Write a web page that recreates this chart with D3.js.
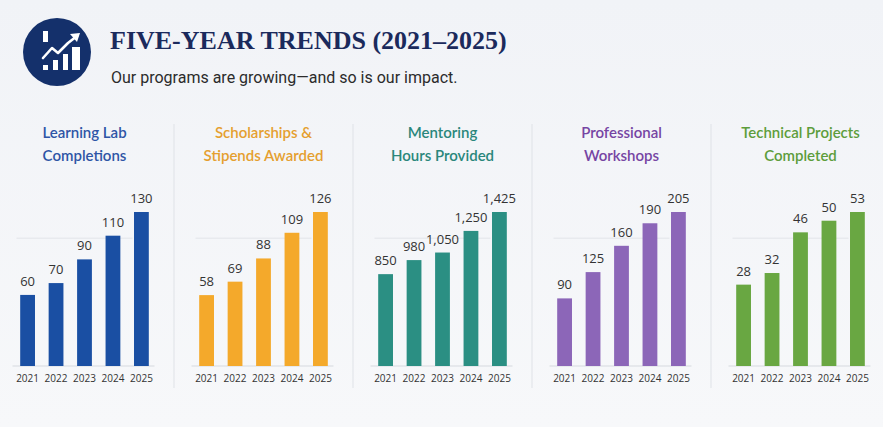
<!DOCTYPE html>
<html>
<head>
<meta charset="utf-8">
<script src="https://cdn.jsdelivr.net/npm/d3@7"></script>
<style>
  html, body { margin: 0; padding: 0; background: #f3f4f7; }
  svg { display: block; }
</style>
</head>
<body>
<svg id="chart" width="883" height="427"></svg>
<script>
// Data
const years = ['2021', '2022', '2023', '2024', '2025'];
const panelNames = ['learning', 'scholarships', 'mentoring', 'workshops', 'technical'];
const panelTitles = [
  ['Learning Lab', 'Completions'],
  ['Scholarships &', 'Stipends Awarded'],
  ['Mentoring', 'Hours Provided'],
  ['Professional', 'Workshops'],
  ['Technical Projects', 'Completed']
];
const learningValues = [60, 70, 90, 110, 130];
const scholarshipValues = [58, 69, 88, 109, 126];
const mentoringValues = [850, 980, 1050, 1250, 1425];
const workshopValues = [90, 125, 160, 190, 205];
const technicalValues = [28, 32, 46, 50, 53];
const panelValues = [learningValues, scholarshipValues, mentoringValues, workshopValues, technicalValues];

const barColors = ['#1a4fa3', '#f4a92b', '#2b8f83', '#8c66b8', '#69a742'];
const titleColors = ['#2e55a6', '#e59f2f', '#2a877b', '#7645a3', '#5d9d3b'];

const svg = d3.select('#chart');
const W = 883, H = 427;

// background
const defs = svg.append('defs');
const bg = defs.append('linearGradient').attr('id', 'bg').attr('x1', 0).attr('y1', 0).attr('x2', 0).attr('y2', 1);
bg.append('stop').attr('offset', '0%').attr('stop-color', '#f1f3f7');
bg.append('stop').attr('offset', '100%').attr('stop-color', '#f7f8fa');
svg.append('rect').attr('width', W).attr('height', H).attr('fill', 'url(#bg)');

// Header icon
const icon = svg.append('g').attr('transform', 'translate(57,52)');
icon.append('circle').attr('r', 34).attr('fill', '#14306b');
icon.append('rect').attr('x', -14).attr('y', -21).attr('width', 5).attr('height', 11).attr('fill', '#fff');
[[-14, 13, 5, 5], [-4, 8, 5, 10], [6, 2, 5, 16], [15, -5, 8, 23]].forEach(b => {
  icon.append('rect').attr('x', b[0]).attr('y', b[1]).attr('width', b[2]).attr('height', b[3]).attr('fill', '#fff');
});
icon.append('path')
  .attr('d', 'M-14,6 L-5,-4 L1,1 L11,-9 L20,-16')
  .attr('fill', 'none').attr('stroke', '#fff').attr('stroke-width', 2.6)
  .attr('stroke-linejoin', 'round').attr('stroke-linecap', 'round');
icon.append('path').attr('d', 'M23,-19 L13,-18 L20,-10 Z').attr('fill', '#fff');

svg.append('text')
  .attr('x', 110).attr('y', 49)
  .attr('font-family', 'Liberation Serif, serif')
  .attr('font-weight', 'bold')
  .attr('font-size', 26)
  .attr('fill', '#1b2a5c')
  .text('FIVE-YEAR TRENDS (2021\u20132025)');

svg.append('text')
  .attr('x', 111).attr('y', 83)
  .attr('font-family', 'Roboto, sans-serif')
  .attr('font-size', 16)
  .attr('fill', '#2b2b2b')
  .text('Our programs are growing\u2014and so is our impact.');

// Panels
const panelX = d3.scaleBand().domain(panelNames).range([-5, 890]);
const baseY = 366, topY = 212;

// dividers between panels
svg.selectAll('.divider')
  .data(panelNames.slice(1))
  .enter()
  .append('line')
  .attr('class', 'divider')
  .attr('x1', d => panelX(d)).attr('x2', d => panelX(d))
  .attr('y1', 124).attr('y2', 388)
  .attr('stroke', '#dfe2e7').attr('stroke-width', 1);

panelNames.forEach((name, i) => {
  const cx = panelX(name) + panelX.bandwidth() / 2;
  const values = panelValues[i];
  const g = svg.append('g').attr('class', 'panel-' + name);

  const x = d3.scaleBand().domain(years).range([cx - 70, cx + 70]).paddingInner(0.48).paddingOuter(0.2);
  const y = d3.scaleLinear().domain([0, d3.max(values)]).range([baseY, topY]);

  // title
  g.selectAll('.title')
    .data(panelTitles[i])
    .enter()
    .append('text')
    .attr('x', cx)
    .attr('y', (d, j) => 138 + j * 23)
    .attr('text-anchor', 'middle')
    .attr('font-family', 'Lato, sans-serif')
    .attr('font-weight', 600)
    .attr('font-size', 15)
    .attr('fill', titleColors[i])
    .text(d => d);

  // faint gridline and baseline
  g.append('line')
    .attr('x1', cx - 68).attr('x2', cx + 48)
    .attr('y1', y(d3.max(values) * 0.83)).attr('y2', y(d3.max(values) * 0.83))
    .attr('stroke', '#e2e4e9').attr('stroke-width', 1);
  g.append('line')
    .attr('x1', cx - 72).attr('x2', cx + 70)
    .attr('y1', y(0)).attr('y2', y(0))
    .attr('stroke', '#d6d9df').attr('stroke-width', 1);

  // bars
  g.selectAll('.bar')
    .data(values)
    .enter()
    .append('rect')
    .attr('class', 'bar')
    .attr('x', (d, j) => x(years[j]))
    .attr('y', d => y(d))
    .attr('width', x.bandwidth())
    .attr('height', d => y(0) - y(d))
    .attr('fill', barColors[i]);

  // value labels
  g.selectAll('.value')
    .data(values)
    .enter()
    .append('text')
    .attr('x', (d, j) => x(years[j]) + x.bandwidth() / 2)
    .attr('y', d => y(d) - 9)
    .attr('text-anchor', 'middle')
    .attr('font-family', 'Open Sans, sans-serif')
    .attr('font-size', 13)
    .attr('fill', '#333')
    .text(d => d3.format(',')(d));

  // year axis
  const axis = g.append('g')
    .attr('transform', `translate(0,${baseY})`)
    .call(d3.axisBottom(x).tickSize(0).tickPadding(9));
  axis.select('.domain').remove();
  axis.selectAll('text')
    .attr('font-family', 'Open Sans, sans-serif')
    .attr('font-size', 10)
    .attr('fill', '#333');
});
</script>
</body>
</html>
